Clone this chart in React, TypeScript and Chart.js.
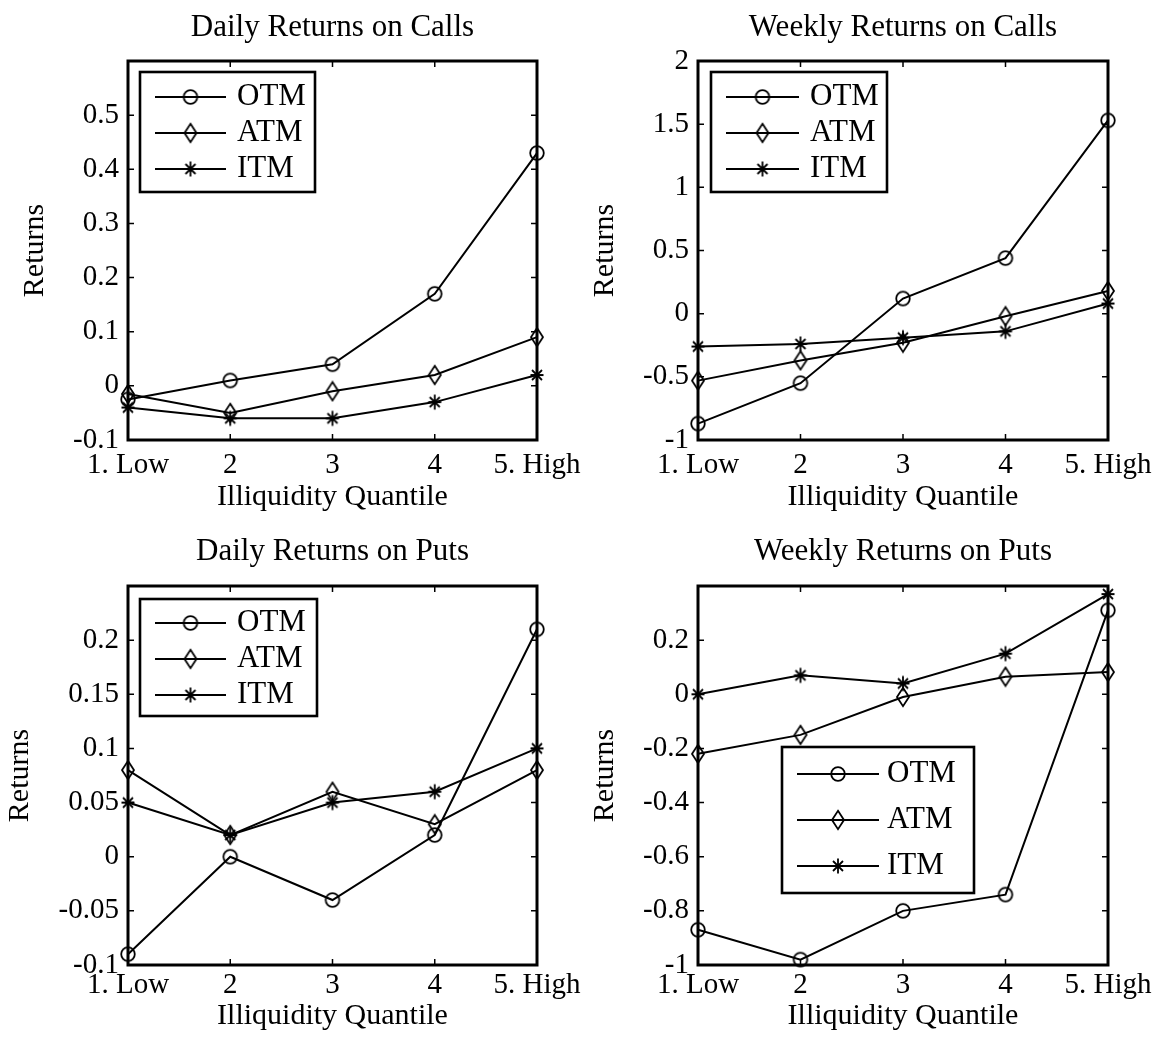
import React, { useEffect, useRef } from 'react';
import { Chart, registerables } from 'chart.js';

Chart.register(...registerables);

// ---------------- data ----------------
const xValues = [1, 2, 3, 4, 5];
const xTickLabels = ['1. Low', '2', '3', '4', '5. High'];
const seriesNames = ['OTM', 'ATM', 'ITM'];

const dailyCallsOTM = [-0.025, 0.01, 0.04, 0.17, 0.43];
const dailyCallsATM = [-0.015, -0.05, -0.01, 0.02, 0.09];
const dailyCallsITM = [-0.04, -0.06, -0.06, -0.03, 0.02];

const weeklyCallsOTM = [-0.87, -0.55, 0.12, 0.44, 1.53];
const weeklyCallsATM = [-0.53, -0.37, -0.23, -0.02, 0.18];
const weeklyCallsITM = [-0.26, -0.24, -0.19, -0.14, 0.08];

const dailyPutsOTM = [-0.09, 0, -0.04, 0.02, 0.21];
const dailyPutsATM = [0.08, 0.02, 0.06, 0.03, 0.08];
const dailyPutsITM = [0.05, 0.02, 0.05, 0.06, 0.1];

const weeklyPutsOTM = [-0.87, -0.98, -0.8, -0.74, 0.31];
const weeklyPutsATM = [-0.22, -0.15, -0.01, 0.065, 0.082];
const weeklyPutsITM = [0, 0.07, 0.04, 0.15, 0.37];

const dailyCallsYTicks = [-0.1, 0, 0.1, 0.2, 0.3, 0.4, 0.5];
const weeklyCallsYTicks = [-1, -0.5, 0, 0.5, 1, 1.5, 2];
const dailyPutsYTicks = [-0.1, -0.05, 0, 0.05, 0.1, 0.15, 0.2];
const weeklyPutsYTicks = [-1, -0.8, -0.6, -0.4, -0.2, 0, 0.2];

// ---------------- styles / layout ----------------
const FONT = '"Liberation Serif", "Times New Roman", Times, serif';
const TICK_SIZE = 29;
const TITLE_SIZE = 31;
const LABEL_SIZE = 30;
const LEGEND_SIZE = 31;

type Legend = { x: number; y: number; w: number; h: number; rows: number[]; lx0: number; lx1: number; tx: number };
type PanelCfg = {
  title: string;
  series: number[][];
  yMin: number;
  yMax: number;
  yTicks: number[];
  left: number;
  top: number;
  width: number;
  height: number;
  area: { l: number; r: number; t: number; b: number };
  titleCy: number;
  yTitleCx: number;
  xTickCy: number;
  xTitleCy: number;
  yTickPad: number;
  legend: Legend;
};

const panels: PanelCfg[] = [
  {
    title: 'Daily Returns on Calls',
    series: [dailyCallsOTM, dailyCallsATM, dailyCallsITM],
    yMin: -0.1, yMax: 0.6, yTicks: dailyCallsYTicks,
    left: 0, top: 0, width: 600, height: 519,
    area: { l: 128, r: 537, t: 61, b: 440 },
    titleCy: 28, yTitleCx: 35, xTickCy: 465, xTitleCy: 497, yTickPad: 9,
    legend: { x: 140, y: 72, w: 175, h: 120, rows: [25, 61, 97], lx0: 15, lx1: 86, tx: 97 },
  },
  {
    title: 'Weekly Returns on Calls',
    series: [weeklyCallsOTM, weeklyCallsATM, weeklyCallsITM],
    yMin: -1, yMax: 2, yTicks: weeklyCallsYTicks,
    left: 577, top: 0, width: 577, height: 519,
    area: { l: 121, r: 531, t: 61, b: 440 },
    titleCy: 28, yTitleCx: 28, xTickCy: 465, xTitleCy: 497, yTickPad: 9,
    legend: { x: 134, y: 72, w: 176, h: 120, rows: [25, 61, 97], lx0: 15, lx1: 88, tx: 99 },
  },
  {
    title: 'Daily Returns on Puts',
    series: [dailyPutsOTM, dailyPutsATM, dailyPutsITM],
    yMin: -0.1, yMax: 0.25, yTicks: dailyPutsYTicks,
    left: 0, top: 519, width: 600, height: 519,
    area: { l: 128, r: 537, t: 67, b: 446 },
    titleCy: 33, yTitleCx: 20, xTickCy: 466, xTitleCy: 497, yTickPad: 9,
    legend: { x: 140, y: 80, w: 177, h: 117, rows: [24, 60, 96], lx0: 15, lx1: 86, tx: 97 },
  },
  {
    title: 'Weekly Returns on Puts',
    series: [weeklyPutsOTM, weeklyPutsATM, weeklyPutsITM],
    yMin: -1, yMax: 0.4, yTicks: weeklyPutsYTicks,
    left: 577, top: 519, width: 577, height: 519,
    area: { l: 121, r: 531, t: 67, b: 446 },
    titleCy: 33, yTitleCx: 28, xTickCy: 466, xTitleCy: 497, yTickPad: 9,
    legend: { x: 205, y: 228, w: 192, h: 146, rows: [27, 73, 119], lx0: 15, lx1: 97, tx: 105 },
  },
];

function makeMarker(kind: string): HTMLCanvasElement {
  const c = document.createElement('canvas');
  if (kind === 'circle') {
    c.width = 18; c.height = 18;
    const ctx = c.getContext('2d')!;
    ctx.strokeStyle = '#000'; ctx.lineWidth = 1.8;
    ctx.beginPath(); ctx.arc(9, 9, 6.8, 0, Math.PI * 2); ctx.stroke();
  } else if (kind === 'diamond') {
    c.width = 16; c.height = 22;
    const ctx = c.getContext('2d')!;
    ctx.strokeStyle = '#000'; ctx.lineWidth = 1.8;
    ctx.beginPath();
    ctx.moveTo(8, 1.8); ctx.lineTo(14, 11); ctx.lineTo(8, 20.2); ctx.lineTo(2, 11); ctx.closePath();
    ctx.stroke();
  } else {
    c.width = 18; c.height = 18;
    const ctx = c.getContext('2d')!;
    ctx.strokeStyle = '#000'; ctx.lineWidth = 1.8;
    ctx.beginPath();
    ctx.moveTo(9, 1.5); ctx.lineTo(9, 16.5);
    ctx.moveTo(2.5, 9); ctx.lineTo(15.5, 9);
    ctx.moveTo(4, 4); ctx.lineTo(14, 14);
    ctx.moveTo(14, 4); ctx.lineTo(4, 14);
    ctx.stroke();
  }
  return c;
}

const fmt = (v: number) => String(Math.round(v * 1000) / 1000);

function PanelChart({ cfg }: { cfg: PanelCfg }) {
  const ref = useRef<HTMLCanvasElement | null>(null);
  useEffect(() => {
    if (!ref.current) return;
    const markers = [makeMarker('circle'), makeMarker('diamond'), makeMarker('star')];
    const tickLh = TICK_SIZE * 1.2;
    const titleLh = TITLE_SIZE * 1.2;
    const labelLh = LABEL_SIZE * 1.2;
    const a = cfg.area;

    const framePlugin = {
      id: 'frame',
      beforeDatasetsDraw(chart: any) {
        const { ctx, chartArea } = chart;
        const xs = chart.scales.x;
        const ys = chart.scales.y;
        const TL = 6;
        ctx.save();
        ctx.strokeStyle = '#000';
        ctx.lineWidth = 1.5;
        ctx.beginPath();
        for (const t of xs.ticks) {
          const px = xs.getPixelForValue(t.value);
          ctx.moveTo(px, chartArea.bottom); ctx.lineTo(px, chartArea.bottom - TL);
          ctx.moveTo(px, chartArea.top); ctx.lineTo(px, chartArea.top + TL);
        }
        for (const t of ys.ticks) {
          const py = ys.getPixelForValue(t.value);
          ctx.moveTo(chartArea.left, py); ctx.lineTo(chartArea.left + TL, py);
          ctx.moveTo(chartArea.right, py); ctx.lineTo(chartArea.right - TL, py);
        }
        ctx.stroke();
        ctx.lineWidth = 3;
        ctx.strokeRect(chartArea.left, chartArea.top, chartArea.right - chartArea.left, chartArea.bottom - chartArea.top);
        ctx.restore();
      },
    };

    const legendPlugin = {
      id: 'matlabLegend',
      afterDatasetsDraw(chart: any) {
        const { ctx } = chart;
        const L = cfg.legend;
        ctx.save();
        ctx.fillStyle = '#fff';
        ctx.fillRect(L.x, L.y, L.w, L.h);
        ctx.strokeStyle = '#000';
        ctx.lineWidth = 2.6;
        ctx.strokeRect(L.x, L.y, L.w, L.h);
        chart.data.datasets.forEach((ds: any, i: number) => {
          const ry = L.y + L.rows[i];
          ctx.lineWidth = 2;
          ctx.beginPath();
          ctx.moveTo(L.x + L.lx0, ry); ctx.lineTo(L.x + L.lx1, ry);
          ctx.stroke();
          const m = markers[i];
          ctx.drawImage(m, L.x + (L.lx0 + L.lx1) / 2 - m.width / 2, ry - m.height / 2);
          ctx.fillStyle = '#000';
          ctx.font = `${LEGEND_SIZE}px ${FONT}`;
          ctx.textAlign = 'left';
          ctx.textBaseline = 'middle';
          ctx.fillText(ds.label, L.x + L.tx, ry);
        });
        ctx.restore();
      },
    };

    const chart = new Chart(ref.current, {
      type: 'line',
      data: {
        datasets: cfg.series.map((vals, i) => ({
          label: seriesNames[i],
          data: vals.map((y, j) => ({ x: xValues[j], y })),
          borderColor: '#000',
          borderWidth: 2,
          backgroundColor: 'rgba(0,0,0,0)',
          pointStyle: markers[i] as any,
          pointRadius: 8,
          pointHoverRadius: 8,
          tension: 0,
          fill: false,
          clip: false as any,
        })),
      },
      options: {
        responsive: false,
        maintainAspectRatio: false,
        animation: false,
        events: [],
        layout: { padding: { left: 0, top: 0, right: cfg.width - a.r, bottom: 0 } },
        plugins: {
          legend: { display: false },
          tooltip: { enabled: false },
          title: {
            display: true,
            text: cfg.title,
            color: '#000',
            fullSize: false,
            font: { family: FONT, size: TITLE_SIZE, weight: 'normal' },
            padding: { top: cfg.titleCy - titleLh / 2, bottom: a.t - cfg.titleCy - titleLh / 2 },
          },
        },
        scales: {
          x: {
            type: 'linear',
            min: 1,
            max: 5,
            afterBuildTicks: (s: any) => { s.ticks = xValues.map((v) => ({ value: v })); },
            afterFit: (s: any) => { s.height = cfg.height - a.b; s.paddingLeft = 0; s.paddingRight = 0; },
            ticks: {
              autoSkip: false,
              maxRotation: 0,
              minRotation: 0,
              color: '#000',
              font: { family: FONT, size: TICK_SIZE },
              padding: cfg.xTickCy - a.b - tickLh / 2,
              callback: (v: any) => xTickLabels[xValues.indexOf(Number(v))] ?? '',
            },
            grid: { display: false, drawTicks: false },
            border: { display: false },
            title: {
              display: true,
              text: 'Illiquidity Quantile',
              color: '#000',
              font: { family: FONT, size: LABEL_SIZE },
              padding: { top: 0, bottom: cfg.height - cfg.xTitleCy - labelLh / 2 },
            },
          },
          y: {
            type: 'linear',
            min: cfg.yMin,
            max: cfg.yMax,
            afterBuildTicks: (s: any) => { s.ticks = cfg.yTicks.map((v) => ({ value: v })); },
            afterFit: (s: any) => { s.width = a.l; s.paddingTop = 0; s.paddingBottom = 0; },
            ticks: {
              autoSkip: false,
              color: '#000',
              font: { family: FONT, size: TICK_SIZE },
              padding: cfg.yTickPad,
              callback: (v: any) => fmt(Number(v)),
            },
            grid: { display: false, drawTicks: false },
            border: { display: false },
            title: {
              display: true,
              text: 'Returns',
              color: '#000',
              font: { family: FONT, size: LABEL_SIZE },
              padding: { top: cfg.yTitleCx - labelLh / 2, bottom: 0 },
            },
          },
        },
      } as any,
      plugins: [framePlugin, legendPlugin],
    });
    return () => chart.destroy();
  }, [cfg]);

  return (
    <canvas
      ref={ref}
      width={cfg.width}
      height={cfg.height}
      style={{ position: 'absolute', left: cfg.left, top: cfg.top, width: cfg.width, height: cfg.height }}
    />
  );
}

export default function App() {
  return (
    <div style={{ position: 'absolute', left: 0, top: 0, width: 1154, height: 1038, background: '#fff', overflow: 'hidden' }}>
      {panels.map((p, i) => (
        <PanelChart key={i} cfg={p} />
      ))}
    </div>
  );
}
